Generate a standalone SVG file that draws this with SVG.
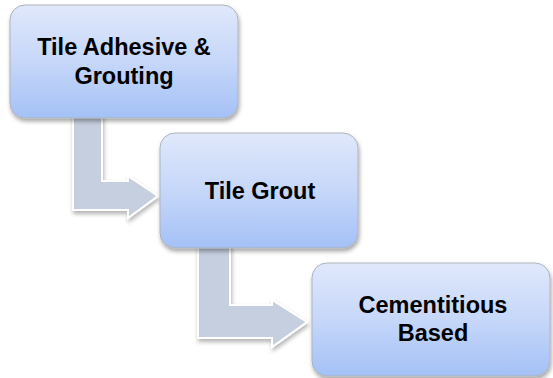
<svg xmlns="http://www.w3.org/2000/svg" width="553" height="378" viewBox="0 0 553 378">
  <style>
    .box { fill: url(#boxGrad); stroke: #aeb3bd; stroke-width: 1; filter: url(#shadow); }
    .arrow { fill: #c6cfe0; stroke: #ffffff; stroke-width: 2; stroke-linejoin: miter; filter: url(#ashadow); }
    .label { font-family: "Liberation Sans", Arial, sans-serif; font-weight: bold; font-size: 23.5px; fill: #000000; text-anchor: middle; }
  </style>
  <defs>
    <linearGradient id="boxGrad" x1="0" y1="0" x2="0" y2="1">
      <stop offset="0" stop-color="#e0e8fb"/>
      <stop offset="0.5" stop-color="#c6d7f9"/>
      <stop offset="1" stop-color="#a4c1f6"/>
    </linearGradient>
    <filter id="shadow" x="-10%" y="-10%" width="125%" height="130%">
      <feGaussianBlur in="SourceAlpha" stdDeviation="2"/>
      <feOffset dx="1" dy="3" result="b"/>
      <feComponentTransfer><feFuncA type="linear" slope="0.35"/></feComponentTransfer>
      <feMerge><feMergeNode/><feMergeNode in="SourceGraphic"/></feMerge>
    </filter>
    <filter id="ashadow" x="-15%" y="-15%" width="135%" height="135%">
      <feGaussianBlur in="SourceAlpha" stdDeviation="2"/>
      <feOffset dx="1" dy="3" result="b"/>
      <feComponentTransfer><feFuncA type="linear" slope="0.3"/></feComponentTransfer>
      <feMerge><feMergeNode/><feMergeNode in="SourceGraphic"/></feMerge>
    </filter>
  </defs>

  <g id="connectors">
    <path class="arrow" d="M73,110 L102,110 L102,181 L128,181 L128,176 L158,196 L128,218 L128,210 L73,210 Z"/>
    <path class="arrow" d="M198,240 L230,240 L230,305 L272,305 L272,300 L307,322 L272,347 L272,338 L198,338 Z"/>
  </g>

  <g id="node1">
    <rect class="box" x="10" y="5" width="228" height="113" rx="15" ry="15"/>
    <text class="label" x="124" y="55">Tile Adhesive &amp;</text>
    <text class="label" x="124" y="84">Grouting</text>
  </g>

  <g id="node2">
    <rect class="box" x="160" y="133" width="198" height="115" rx="15" ry="15"/>
    <text class="label" x="260" y="199">Tile Grout</text>
  </g>

  <g id="node3">
    <rect class="box" x="312" y="263" width="238" height="113" rx="15" ry="15"/>
    <text class="label" x="433" y="313">Cementitious</text>
    <text class="label" x="433" y="341">Based</text>
  </g>
</svg>
